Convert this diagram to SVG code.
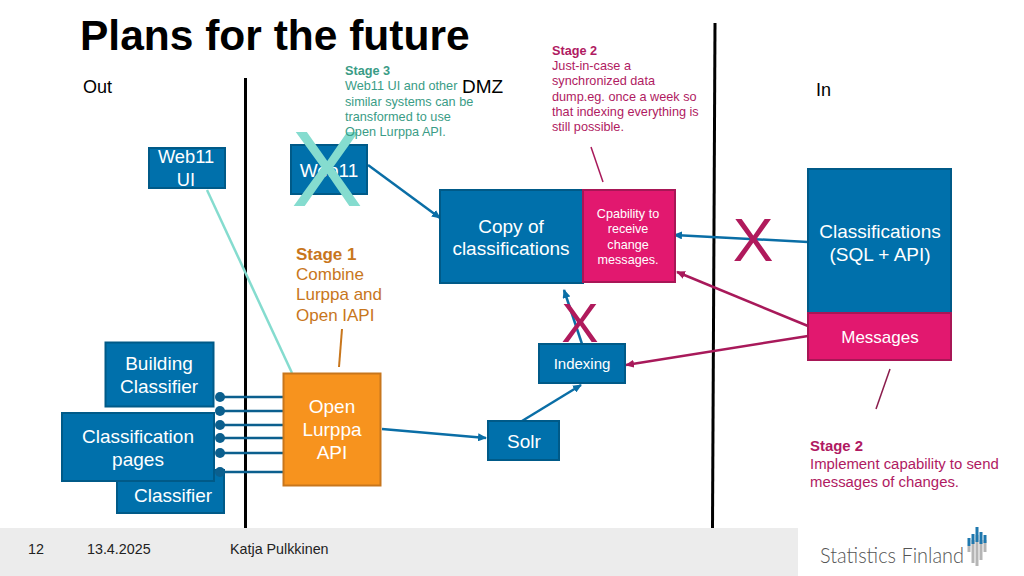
<svg xmlns="http://www.w3.org/2000/svg" width="1024" height="576" viewBox="0 0 1024 576">
<style>
text{font-family:"Liberation Sans",Arial,sans-serif}
.box{fill:#0070ab;stroke:#005a88;stroke-width:2}
.pink{fill:#e2186f;stroke:#a81656;stroke-width:2}
.w{fill:#fff;text-anchor:middle}
.f19{font-size:19px}
.b{stroke:#0a6ea6;stroke-width:2.5;fill:none}
.r{stroke:#a8195a;stroke-width:2.5;fill:none}
.wall{stroke:#000;stroke-width:3;fill:none}
.pin{stroke:#0b5f8e;stroke-width:2.5}
.dot{fill:#0b5f8e}
.s3{font-size:12.7px;fill:#3a9c86}
.s2{font-size:12.7px;fill:#b01a62}
.lab{font-size:18px;fill:#000}
</style>
<defs>
<marker id="ab" markerWidth="9" markerHeight="8" refX="8" refY="4" orient="auto" markerUnits="userSpaceOnUse"><path d="M0 0L9 4L0 8Z" fill="#0a6ea6"/></marker>
<marker id="ar" markerWidth="9" markerHeight="8" refX="8" refY="4" orient="auto" markerUnits="userSpaceOnUse"><path d="M0 0L9 4L0 8Z" fill="#a8195a"/></marker>
</defs>
<rect width="1024" height="576" fill="#fff"/>
<rect id="footer-bar" x="0" y="528" width="798" height="48" fill="#ececec"/>
<text x="80" y="50" font-size="42.500" font-weight="700" fill="#000">Plans for the future</text>
<text class="lab" x="83" y="93">Out</text>
<text class="lab" x="462" y="93" font-size="19" style="font-size:19px">DMZ</text>
<text class="lab" x="816" y="96">In</text>
<g id="connectors">
<path d="M245.500 78V528" class="wall"/>
<path d="M715 23L712.500 528" class="wall"/>
<path d="M207 190L292 373" stroke="#85dccf" stroke-width="2.500" fill="none"/>
<path d="M342 329L339 367" stroke="#c8761c" stroke-width="2" fill="none"/>
<path d="M591 147L603 182" stroke="#a8195a" stroke-width="1.500" fill="none"/>
<path d="M890 369L876 409" stroke="#8a1c4c" stroke-width="1.500" fill="none"/>
<path d="M365 147L361 172" stroke="#5aa898" stroke-width="1" fill="none"/>
<path d="M368 165L440 218" class="b" marker-end="url(#ab)"/>
<path d="M808 242L674 235" class="b" marker-end="url(#ab)"/>
<path d="M808 326L677 272" class="r" marker-end="url(#ar)"/>
<path d="M808 336L626 365" class="r" marker-end="url(#ar)"/>
<path d="M382 429L486 438" class="b" marker-end="url(#ab)"/>
<path d="M522 421L581 385" class="b" marker-end="url(#ab)"/>
<path d="M582 344L564 290" class="b" marker-end="url(#ab)"/>
<path d="M220 397H283M220 411H283M220 425H283M220 438H285M220 453H285M220 472H283" class="pin"/>
</g>
<g id="node-classifier"><rect class="box" x="117" y="470" width="107" height="43"/><text class="w f19" x="173" y="502">Classifier</text></g>
<g id="node-building-classifier"><rect class="box" x="105.500" y="342.500" width="108" height="64"/><text class="w f19" x="159" y="370">Building</text><text class="w f19" x="159" y="393">Classifier</text></g>
<g id="node-classification-pages"><rect class="box" x="62" y="413" width="152" height="68"/><text class="w f19" x="138" y="443">Classification</text><text class="w f19" x="138" y="466">pages</text></g>
<g id="dots"><circle class="dot" cx="220" cy="397" r="5"/><circle class="dot" cx="220" cy="411" r="5"/><circle class="dot" cx="220" cy="425" r="5"/><circle class="dot" cx="220" cy="438" r="5"/><circle class="dot" cx="220" cy="453" r="5"/><circle class="dot" cx="220" cy="472" r="5"/></g>
<g id="node-web11-ui"><rect class="box" x="149" y="148" width="76" height="40"/><text class="w" font-size="18.300" x="186" y="163">Web11</text><text class="w" font-size="18.300" x="186" y="186">UI</text></g>
<g id="node-web11"><rect class="box" x="291" y="145" width="76" height="49"/><text class="w f19" x="329" y="177">Web11</text><text x="327" y="206" font-size="107" fill="#85dccf" text-anchor="middle">X</text></g>
<g id="stage3"><text class="s3" x="345" y="75" font-weight="700">Stage 3</text><text class="s3" x="345" y="90">Web11 UI and other</text><text class="s3" x="345" y="106">similar systems can be</text><text class="s3" x="345" y="121">transformed to use</text><text class="s3" x="345" y="136">Open Lurppa API.</text></g>
<g id="stage2-top"><text class="s2" x="552" y="55" font-weight="700">Stage 2</text><text class="s2" x="552" y="70">Just-in-case a</text><text class="s2" x="552" y="85">synchronized data</text><text class="s2" x="552" y="101">dump.eg. once a week so</text><text class="s2" x="552" y="116">that indexing everything is</text><text class="s2" x="552" y="131">still possible.</text></g>
<g id="stage1" font-size="17" fill="#c8761c"><text x="296" y="260" font-weight="700">Stage 1</text><text x="296" y="280">Combine</text><text x="296" y="300">Lurppa and</text><text x="296" y="321">Open IAPI</text></g>
<g id="node-copy"><rect class="box" x="440" y="190" width="143" height="93"/><text class="w f19" x="511" y="233">Copy of</text><text class="w f19" x="511" y="255">classifications</text></g>
<g id="node-capability"><rect class="pink" x="583" y="190" width="92" height="92"/><g class="w" font-size="12.600"><text x="628" y="218">Cpability to</text><text x="628" y="233">receive</text><text x="628" y="249">change</text><text x="628" y="264">messages.</text></g></g>
<text id="x-indexing" x="580" y="342" font-size="56" fill="#b01a5c" text-anchor="middle">X</text>
<g id="node-indexing"><rect class="box" x="539" y="344" width="86" height="39"/><text class="w" font-size="15" x="582" y="369">Indexing</text></g>
<g id="node-solr"><rect class="box" x="488" y="421" width="71" height="39"/><text class="w f19" x="524" y="448">Solr</text></g>
<g id="node-open-lurppa"><rect x="283.500" y="373.500" width="97" height="112" fill="#f7931e" stroke="#c8761c" stroke-width="2"/><text class="w f19" x="332" y="413">Open</text><text class="w f19" x="332" y="436">Lurppa</text><text class="w f19" x="332" y="459">API</text></g>
<g id="node-classifications"><rect class="box" x="808" y="169" width="143" height="144"/><text class="w f19" x="880" y="238">Classifications</text><text class="w f19" x="880" y="261">(SQL + API)</text></g>
<g id="node-messages"><rect class="pink" x="808" y="313" width="143" height="47"/><text class="w" font-size="17" x="880" y="343">Messages</text></g>
<text id="x-classifications" x="753" y="261" font-size="61" fill="#b01a5c" text-anchor="middle">X</text>
<g id="stage2-bottom" font-size="14.900" fill="#b01a62"><text x="810" y="451" font-weight="700">Stage 2</text><text x="810" y="469">Implement capability to send</text><text x="810" y="487">messages of changes.</text></g>
<g id="footer" font-size="14.300" fill="#222"><text x="28" y="554">12</text><text x="87" y="554">13.4.2025</text><text x="230" y="554">Katja Pulkkinen</text></g>
<g id="logo"><text x="820" y="563" font-size="21" textLength="144" lengthAdjust="spacingAndGlyphs" fill="#555" style="font-family:Lato,'Liberation Sans',sans-serif;font-weight:300">Statistics Finland</text>
<path d="M969 546V552M973 540V563M977 535V566M981 540V560M985 540V552" stroke="#b5b5b5" stroke-width="3" fill="none"/>
<path d="M969 538V546M973 534V544M977 527V542M981 532V544M985 535V543" stroke="#1f78ae" stroke-width="3" fill="none"/></g>
</svg>
